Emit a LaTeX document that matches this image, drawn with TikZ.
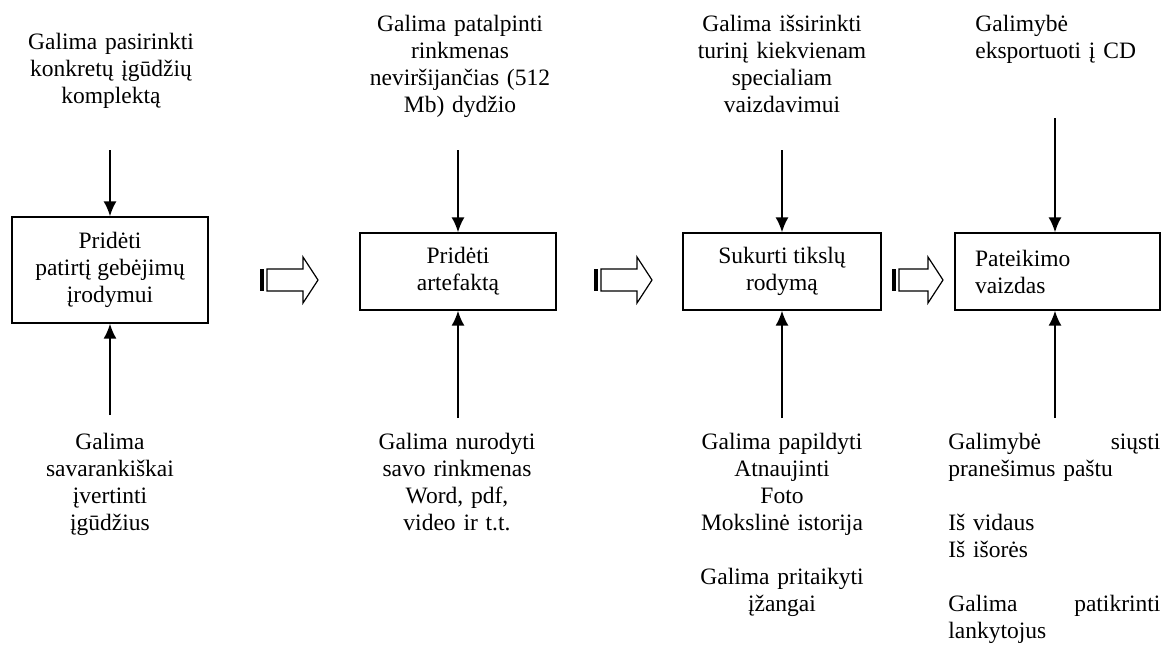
\documentclass[tikz,border=0pt]{standalone}
\usepackage{fontspec}
\setmainfont{Liberation Serif}
\usetikzlibrary{arrows.meta}
\begin{document}
\begin{tikzpicture}[x=0.5pt, y=-0.5pt,
        font=\fontsize{11.75}{13.5}\selectfont,
        box/.style={draw, line width=0.6pt, inner sep=0pt, align=center},
        note/.style={inner sep=0pt, anchor=base, text width=#1, align=center},
        link/.style={->, >={Latex[length=7.5pt,width=6.5pt]}, line width=1pt}]
        \useasboundingbox (0,0) rectangle (1162,645);
        % boxes
        \node[box, minimum width=98pt, minimum height=53pt] (pridetiA) at (110,270) {Pridėti\\ patirtį gebėjimų\\ įrodymui};
        \node[box, minimum width=98pt, minimum height=38.5pt] (pridetiB) at (458,271.5) {Pridėti\\ artefaktą};
        \node[box, minimum width=99pt, minimum height=38.5pt] (sukurti) at (782,271.5) {Sukurti tikslų\\ rodymą};
        \node[box, text width=82.5pt, inner xsep=10pt, align=left, minimum height=38.5pt] (pateikimo) at (1057.5,271.5) {Pateikimo\\ vaizdas};
        % top notes
        \node[note=110pt] (virsA) at (111,49) {Galima pasirinkti\\ konkretų įgūdžių\\ komplektą};
        \node[note=110pt] (virsB) at (460,31) {Galima patalpinti\\ rinkmenas\\ neviršijančias (512\\ Mb) dydžio};
        \node[note=110pt] (virsC) at (782,31) {Galima išsirinkti\\ turinį kiekvienam\\ specialiam\\ vaizdavimui};
        \node[note=90pt, anchor=base west, align=left] (virsD) at (975,31) {Galimybė\\ eksportuoti į CD};
        % bottom notes
        \node[note=110pt] (apaA) at (110,449) {Galima\\ savarankiškai\\ įvertinti\\ įgūdžius};
        \node[note=110pt] (apaB) at (457,449) {Galima nurodyti\\ savo rinkmenas\\ Word, pdf,\\ video ir t.t.};
        \node[note=110pt] (apaC) at (782,449) {Galima papildyti\\ Atnaujinti\\ Foto\\ Mokslinė istorija\\[13.5pt] Galima pritaikyti\\ įžangai};
        \node[note=106pt, anchor=base west, align=left] (apaD) at (948,449) {Galimybė \hfill siųsti\\ pranešimus paštu\\[13.5pt] Iš vidaus\\ Iš išorės\\[13.5pt] Galima \hfill patikrinti\\ lankytojus};
        % arrow ends
        \coordinate (inA) at (110,150);
        \coordinate (inB) at (458,150);
        \coordinate (inC) at (782,150);
        \coordinate (inD) at (1055,118);
        \coordinate (outA) at (110,415);
        \coordinate (outB) at (458,418);
        \coordinate (outC) at (782,418);
        \coordinate (outD) at (1055,418);
        \draw[link] (inA) -- (pridetiA.north -| inA);
        \draw[link] (inB) -- (pridetiB.north -| inB);
        \draw[link] (inC) -- (sukurti.north -| inC);
        \draw[link] (inD) -- (pateikimo.north -| inD);
        \draw[link] (outA) -- (pridetiA.south -| outA);
        \draw[link] (outB) -- (pridetiB.south -| outB);
        \draw[link] (outC) -- (sukurti.south -| outC);
        \draw[link] (outD) -- (pateikimo.south -| outD);
        % striped block arrows
        \foreach \x/\l in {260/58, 594/58, 892/51} {
          \fill (\x,269) rectangle (\x+4,291);
          \draw[line width=0.6pt] (\x+7,269) -- (\x+\l-15,269) -- (\x+\l-15,257) -- (\x+\l,280) -- (\x+\l-15,303) -- (\x+\l-15,291) -- (\x+7,291) -- cycle;
        }
\end{tikzpicture}
\end{document}
